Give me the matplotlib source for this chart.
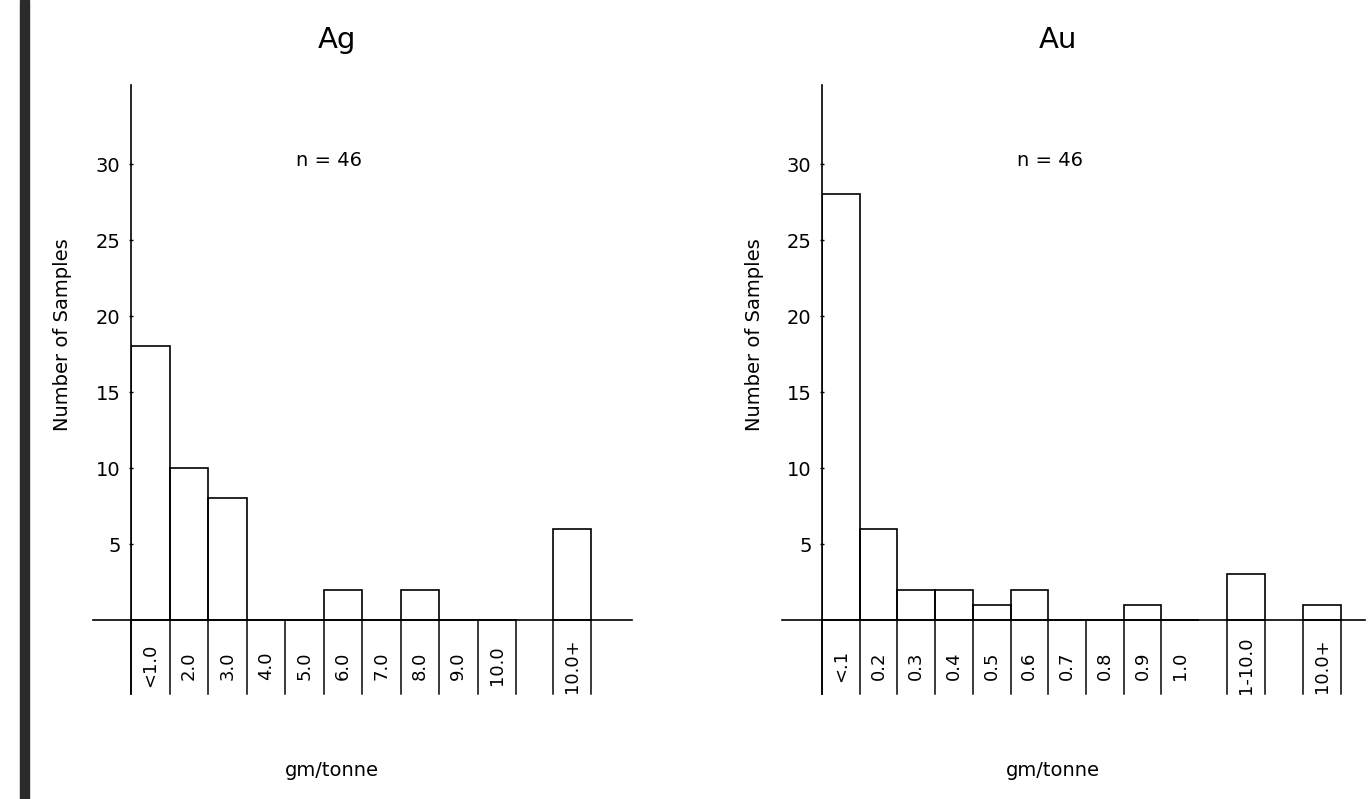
import matplotlib
matplotlib.use("Agg")
import matplotlib.pyplot as plt
from matplotlib.patches import Rectangle

# ---- data ---------------------------------------------------------------
ag_labels = ["<1.0", "2.0", "3.0", "4.0", "5.0", "6.0", "7.0", "8.0", "9.0", "10.0", "10.0+"]
ag_counts = [18, 10, 8, 0, 0, 2, 0, 2, 0, 0, 6]
ag_left = [0, 1, 2, 3, 4, 5, 6, 7, 8, 9, 10.95]

au_labels = ["<.1", "0.2", "0.3", "0.4", "0.5", "0.6", "0.7", "0.8", "0.9", "1.0", "1-10.0", "10.0+"]
au_counts = [28, 6, 2, 2, 1, 2, 0, 0, 1, 0, 3, 1]
au_left = [0, 1, 2, 3, 4, 5, 6, 7, 8, 9, 10.74, 12.76]

yticks = [5, 10, 15, 20, 25, 30]
n_text = "n = 46"

W, H = 1369, 799
LW = 1.2
FS = 14

plt.rcParams.update({"font.family": "DejaVu Sans", "font.size": FS})
fig = plt.figure(figsize=(W / 100, H / 100), dpi=100)


def fx(px):
    return px / W


def fy(py):
    return 1 - py / H


def panel(x0, unit, xmax, xmin_line, labels, counts, left, skip_right, title, tx):
    y_lo, y_hi, ppu = -5.0, 35.3, 15.2
    ax = fig.add_axes([fx(x0), fy(620 + (-y_lo) * ppu), unit * xmax / W,
                       (y_hi - y_lo) * ppu / H])
    ax.set_xlim(0, xmax)
    ax.set_ylim(y_lo, y_hi)
    for s in ("top", "right", "bottom"):
        ax.spines[s].set_visible(False)
    ax.spines["left"].set_bounds(-4.9, 35.2)
    ax.spines["left"].set_linewidth(LW)
    ax.set_xticks([])
    ax.set_yticks(yticks)
    ax.set_yticklabels([str(t) for t in yticks])
    ax.tick_params(axis="y", length=3, width=1, direction="inout", pad=6,
                   labelsize=FS)
    ax.patch.set_alpha(0)

    ax.bar(left, counts, width=1.0, align="edge", fill=False,
           edgecolor="black", linewidth=LW)
    ax.plot([xmin_line, xmax], [0, 0], color="black", lw=LW, clip_on=False)

    # label boxes under the baseline
    edges = set()
    for i, l in enumerate(left):
        edges.add(round(l, 3))
        if i not in skip_right:
            edges.add(round(l + 1, 3))
    for e in edges:
        ax.plot([e, e], [0, -4.9], color="black", lw=LW * 0.9, clip_on=False)
    for l, lab in zip(left, labels):
        ax.text(l + 0.5, -3.0, lab, rotation=90, ha="center", va="center",
                fontsize=FS - 1)

    fig.text(fx(tx), fy(40), title, ha="center", va="center", fontsize=21)
    fig.text(fx(tx - 8), fy(160), n_text, ha="center", va="center", fontsize=FS)
    fig.text(fx(tx - 5), fy(770), "gm/tonne", ha="center", va="center", fontsize=FS)
    fig.text(fx(x0 - 68), fy(335), "Number of Samples", rotation=90,
             ha="center", va="center", fontsize=FS)
    return ax


panel(131, 38.5, 13.0, -1.0, ag_labels, ag_counts, ag_left, set(), "Ag", 337)
panel(822, 37.7, 14.4, -1.06, au_labels, au_counts, au_left, {9}, "Au", 1058)

# scanned binding edge on the left
fig.patches.append(Rectangle((fx(20), 0), fx(9), 1, transform=fig.transFigure,
                             color="#2b2b2b", zorder=5))

fig.savefig("out.png", dpi=100)
